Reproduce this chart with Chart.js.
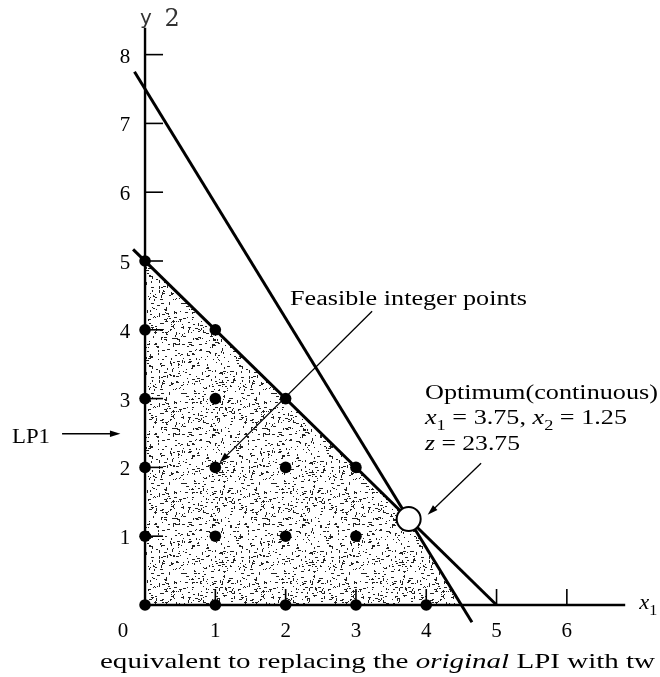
<!DOCTYPE html>
<html>
<head>
<meta charset="utf-8">
<script src="https://cdn.jsdelivr.net/npm/chart.js@4/dist/chart.umd.min.js"></script>
<style>
  html, body { margin: 0; padding: 0; background: #fff; }
  #wrap { width: 660px; height: 677px; position: relative; }
</style>
</head>
<body>
<div id="wrap"><canvas id="lp-chart"></canvas></div>
<script>
/* ═══ integer LP figure ═══ */
// integer points inside the feasible region
var intX = [0, 1, 2, 3, 4, 0, 1, 2, 3, 0, 1, 2, 3, 0, 1, 2, 0, 1, 0];
var intY = [0, 0, 0, 0, 0, 1, 1, 1, 1, 2, 2, 2, 2, 3, 3, 3, 4, 4, 5];

// constraint x1 + x2 <= 5
var c1X = [-0.17, 5];
var c1Y = [5.17, 0];
// constraint 10x1 + 6x2 <= 45
var c2X = [-0.15, 4.65];
var c2Y = [7.75, -0.25];

// upper boundary of the shaded region (filled down to x2 = 0)
var regionX = [0, 0, 3.75, 4.5];
var regionY = [0, 5, 1.25, 0];

// continuous optimum
var optX = [3.75];
var optY = [1.25];

// axes and tick labels
var axisXMax = 6.83;
var axisYMax = 8.39;
var xTicks = [1, 2, 3, 4, 5, 6];
var yTicks = [1, 2, 3, 4, 5, 6, 7, 8];

function pts(xs, ys) {
  return xs.map(function (x, i) { return { x: x, y: ys[i] }; });
}

// stipple texture for the feasible region
function stipple() {
  var c = document.createElement('canvas');
  c.width = c.height = 90;
  var g = c.getContext('2d');
  g.fillStyle = '#fff';
  g.fillRect(0, 0, 90, 90);
  g.fillStyle = '#222';
  var s = 987654;
  function nxt() { s = (s * 16807) % 2147483647; return s; }
  for (var i = 0; i < 500; i++) {
    var px = nxt() % 90, py = nxt() % 90, w = 1 + nxt() % 3;
    if (nxt() % 3) g.fillRect(px, py, w, 1); else g.fillRect(px, py, 1, w);
  }
  return g.createPattern(c, 'repeat');
}

var SERIF = '"Liberation Serif", "Times New Roman", serif';

// rich text: parts [{t, it, sub}] drawn at (x, baseline), stretched to width w
function rich(ctx, parts, x, y, size, w) {
  function font(p) {
    return (p.it ? 'italic ' : '') + (p.sub ? Math.round(size * 0.7) : size) + 'px ' + SERIF;
  }
  var total = 0;
  parts.forEach(function (p) { ctx.font = font(p); total += ctx.measureText(p.t).width; });
  var sx = w ? w / total : 1;
  ctx.save();
  ctx.translate(x, y);
  ctx.scale(sx, 1);
  ctx.textAlign = 'left';
  ctx.textBaseline = 'alphabetic';
  var cx = 0;
  parts.forEach(function (p) {
    ctx.font = font(p);
    ctx.fillText(p.t, cx, p.sub ? size * 0.3 : 0);
    cx += ctx.measureText(p.t).width;
  });
  ctx.restore();
}

function arrow(ctx, x0, y0, x1, y1, lw, head) {
  var a = Math.atan2(y1 - y0, x1 - x0);
  ctx.save();
  ctx.strokeStyle = '#000';
  ctx.fillStyle = '#000';
  ctx.lineWidth = lw;
  ctx.beginPath();
  ctx.moveTo(x0, y0);
  ctx.lineTo(x1 - Math.cos(a) * head * 0.8, y1 - Math.sin(a) * head * 0.8);
  ctx.stroke();
  ctx.beginPath();
  ctx.moveTo(x1, y1);
  ctx.lineTo(x1 - head * Math.cos(a - 0.3), y1 - head * Math.sin(a - 0.3));
  ctx.lineTo(x1 - head * Math.cos(a + 0.3), y1 - head * Math.sin(a + 0.3));
  ctx.closePath();
  ctx.fill();
  ctx.restore();
}

var decor = {
  id: 'decor',
  afterDatasetsDraw: function (chart) {
    var ctx = chart.ctx;
    var sx = chart.scales.x, sy = chart.scales.y;
    var X = function (v) { return sx.getPixelForValue(v); };
    var Y = function (v) { return sy.getPixelForValue(v); };
    ctx.save();
    ctx.strokeStyle = '#000';
    ctx.fillStyle = '#000';

    // tick marks: y ticks point right, x ticks point up
    ctx.lineWidth = 1.6;
    yTicks.forEach(function (t) {
      ctx.beginPath(); ctx.moveTo(X(0), Y(t)); ctx.lineTo(X(0) + 18, Y(t)); ctx.stroke();
    });
    xTicks.forEach(function (t) {
      ctx.beginPath(); ctx.moveTo(X(t), Y(0)); ctx.lineTo(X(t), Y(0) - 16); ctx.stroke();
    });

    // tick labels
    ctx.font = '21px ' + SERIF;
    ctx.textAlign = 'center';
    ctx.textBaseline = 'alphabetic';
    yTicks.forEach(function (t) { ctx.fillText(String(t), X(0) - 20, Y(t) + 8); });
    xTicks.forEach(function (t) { ctx.fillText(String(t), X(t), Y(0) + 32); });
    ctx.fillText('0', X(0) - 22, Y(0) + 32);

    // axis titles
    ctx.save();
    ctx.font = '20px "DejaVu Sans", sans-serif';
    ctx.fillStyle = '#333';
    ctx.textAlign = 'center';
    ctx.fillText('y', X(0) + 1, Y(axisYMax) - 4);
    ctx.font = '24px "DejaVu Serif", serif';
    ctx.fillText('2', X(0) + 27, Y(axisYMax) - 2);
    ctx.restore();
    rich(ctx, [{ t: 'x', it: true }, { t: '1', sub: true }], X(axisXMax) + 14, Y(0) + 4, 21, 18);

    // annotations
    rich(ctx, [{ t: 'Feasible integer points' }], 290, 305, 20, 237);
    arrow(ctx, X(3.23), Y(4.27), X(1.06), Y(2.07), 1.3, 11);

    rich(ctx, [{ t: 'Optimum(continuous)' }], 425, 399, 20, 233);
    rich(ctx, [
      { t: 'x', it: true }, { t: '1', sub: true }, { t: ' = 3.75, ' },
      { t: 'x', it: true }, { t: '2', sub: true }, { t: ' = 1.25' }
    ], 425, 424, 20, 202);
    rich(ctx, [{ t: 'z', it: true }, { t: ' = 23.75' }], 425, 450, 20, 95);
    arrow(ctx, X(4.78), Y(2.06), X(4.02), Y(1.31), 1.3, 11);

    rich(ctx, [{ t: 'LP1' }], 12, 443, 21, 38);
    arrow(ctx, X(-1.18), Y(2.49), X(-0.35), Y(2.49), 1.6, 11);

    // caption under the figure
    rich(ctx, [
      { t: 'equivalent to replacing the ' }, { t: 'original', it: true }, { t: ' LPI with tw' }
    ], 100, 668, 21, 555);
    ctx.restore();
  }
};

new Chart(document.getElementById('lp-chart'), {
  type: 'scatter',
  data: {
    datasets: [
      {
        label: 'region',
        data: pts(regionX, regionY),
        showLine: true,
        borderWidth: 0,
        pointRadius: 0,
        backgroundColor: stipple(),
        fill: 'origin',
        order: 10
      },
      {
        label: 'x1 axis',
        data: [{ x: 0, y: 0 }, { x: axisXMax, y: 0 }],
        showLine: true, borderColor: '#000', borderWidth: 2.4, pointRadius: 0, order: 6
      },
      {
        label: 'x2 axis',
        data: [{ x: 0, y: 0 }, { x: 0, y: axisYMax }],
        showLine: true, borderColor: '#000', borderWidth: 2.4, pointRadius: 0, order: 6
      },
      {
        label: 'x1 + x2 <= 5',
        data: pts(c1X, c1Y),
        showLine: true, borderColor: '#000', borderWidth: 3, pointRadius: 0, order: 5
      },
      {
        label: '10x1 + 6x2 <= 45',
        data: pts(c2X, c2Y),
        showLine: true, borderColor: '#000', borderWidth: 3, pointRadius: 0, order: 5
      },
      {
        label: 'integer points',
        data: pts(intX, intY),
        pointRadius: 5.8, backgroundColor: '#000', borderColor: '#000', borderWidth: 0, order: 2
      },
      {
        label: 'optimum',
        data: pts(optX, optY),
        pointRadius: 12, backgroundColor: '#fff', borderColor: '#000', borderWidth: 2, order: 1
      }
    ]
  },
  options: {
    responsive: true,
    maintainAspectRatio: false,
    animation: false,
    layout: { padding: 0, autoPadding: false },
    plugins: { legend: { display: false }, tooltip: { enabled: false } },
    scales: {
      x: { type: 'linear', min: -2.063, max: 7.325, display: false },
      y: { type: 'linear', min: -1.047, max: 8.794, display: false }
    }
  },
  plugins: [decor]
});
</script>
</body>
</html>
